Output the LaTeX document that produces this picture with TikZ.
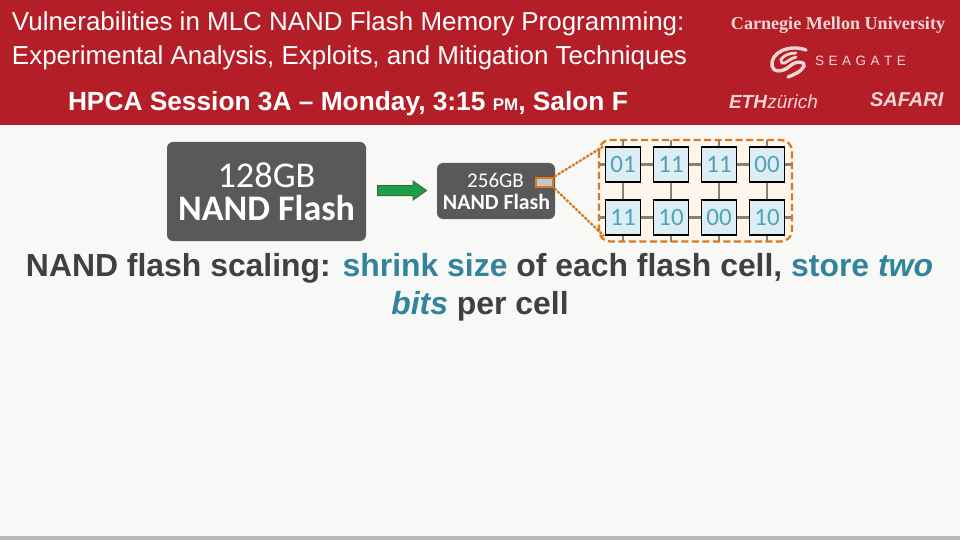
\documentclass[tikz,border=0pt]{standalone}
\usepackage{fontspec}
\setmainfont{Liberation Sans}
\newfontfamily\carlito{Carlito}
\newfontfamily\cmufont{Liberation Serif}
\definecolor{hdr}{HTML}{BA2029}
\definecolor{hdrline}{HTML}{AA1C25}
\definecolor{bgc}{HTML}{F8F8F6}
\definecolor{darkbox}{HTML}{595959}
\definecolor{teal}{HTML}{31849B}
\definecolor{orng}{HTML}{D67A22}
\definecolor{cellfill}{HTML}{DCEEF4}
\definecolor{celltxt}{HTML}{4FA3BC}
\definecolor{logo}{HTML}{F4D6D6}
\definecolor{wirec}{HTML}{8A8078}
\definecolor{arrowfill}{HTML}{1A9F4B}
\definecolor{arrowedge}{HTML}{3F6B2A}
\tikzset{x=1pt,y=-1pt,
 titletxt/.style={anchor=west,text=white,font=\fontsize{25.95}{28}\selectfont,inner sep=0,outer sep=0},
 darkrect/.style={fill=darkbox,rounded corners=6pt,text=white,align=center},
 cell/.style={draw=black,line width=1.6pt,fill=cellfill,minimum width=35pt,minimum height=35pt,inner sep=0,text=celltxt,font=\carlito\fontsize{25}{28}\selectfont},
 wire/.style={draw=wirec,line width=2.2pt},
 zoomline/.style={draw=orng,line width=2.2pt,dash pattern=on 3pt off 1.2pt},
 logotxt/.style={text=logo,inner sep=0,outer sep=0},
 body/.style={inner sep=0,outer sep=0,text=black!75,font=\fontsize{31.9}{36}\selectfont\bfseries}
}
\begin{document}
\begin{tikzpicture}
\useasboundingbox (0,0) rectangle (960,540);
\fill[bgc] (0,0) rectangle (960,540);
\fill[gray!55] (0,536) rectangle (960,540);
\fill[hdr] (0,0) rectangle (960,125);
\begin{scope}
\clip (0,0) rectangle (960,125);
\foreach \k in {0,4,...,1090}{\draw[hdrline,line width=.9pt] (\k,0) -- (\k-125,125);}
\end{scope}
\node[titletxt] (t1) at (12,24) {Vulnerabilities in MLC NAND Flash Memory Programming:};
\node[titletxt] (t2) at (12,58) {Experimental Analysis, Exploits, and Mitigation Techniques};
\node[titletxt,font=\fontsize{26.3}{28}\selectfont\bfseries] (t3) at (68,104) {HPCA Session 3A -- Monday, 3:15 {\fontsize{17}{20}\selectfont PM}, Salon F};
% logos
\node[logotxt,font=\cmufont\bfseries\fontsize{18.1}{22}\selectfont] (cmu) at (838,25) {Carnegie Mellon University};
\node[logotxt,font=\fontsize{13.5}{16}\selectfont,anchor=west] (sea) at (815,61) {S\,\,E\,\,A\,\,G\,\,A\,\,T\,\,E};
\draw[logo,line width=3.4pt,line cap=round] (806,50) .. controls (790,44) and (770,52) .. (772,66) .. controls (773,72) and (782,73) .. (790,66) .. controls (796,60) and (806,62) .. (804,66) .. controls (801,72) and (795,74) .. (788,77);
\draw[logo,line width=2.8pt,line cap=round] (796,53) .. controls (785,53) and (778,60) .. (782,63) .. controls (785,65) and (790,58) .. (796,57);
\node[logotxt,anchor=west,font=\fontsize{19}{22}\selectfont] (eth) at (729,102) {\textbf{\textit{ETH}}\textit{zürich}};
\node[logotxt,anchor=west,font=\fontsize{20}{22}\selectfont\bfseries\itshape] (saf) at (870,100) {SAFARI};
% boxes
\node[darkrect,minimum width=199pt,minimum height=99pt,inner sep=0] (big) at (266.5,191.5) {};
\node[text=white,inner sep=0] (bigA) at (266.5,175) {\carlito\fontsize{36.3}{38}\selectfont 128GB};
\node[text=white,inner sep=0] (bigB) at (266.5,208) {\carlito\bfseries\fontsize{36}{38}\selectfont NAND Flash};
\node[darkrect,minimum width=118pt,minimum height=56pt,inner sep=0] (mid) at (496,191) {};
\node[text=white,inner sep=0] (midA) at (495.5,180) {\carlito\fontsize{21}{24}\selectfont 256GB};
\node[text=white,inner sep=0] (midB) at (496.5,202) {\carlito\bfseries\fontsize{21.8}{24}\selectfont NAND Flash};
% arrow
\fill[arrowfill,draw=arrowedge,line width=1pt] (377.5,185.5) -- (413,185.5) -- (413,181) -- (426.5,190.5) -- (413,200) -- (413,195.5) -- (377.5,195.5) -- cycle;
% zoom region
\node[fill=orange!8,rounded corners=11pt,minimum width=193pt,minimum height=101pt,inner sep=0] (region) at (695.5,191) {};
\node[draw=orng,line width=2.4pt,fill=gray!45,minimum width=17pt,minimum height=9pt,inner sep=0] (chip) at (544.5,182.5) {};
\coordinate (rt) at (604,146);
\coordinate (rb) at (604,236);
\draw[zoomline] (chip.north east) -- (rt);
\draw[zoomline] (chip.south east) -- (rb);
% wires
\foreach \y in {164.5,217.5}{\draw[wire] (599,\y) -- (792,\y);}
\foreach \x in {623,671,719,767}{\draw[wire] (\x,140) -- (\x,242);}
\node[cell] (c11) at (623,164.5) {01};
\node[cell] (c12) at (671,164.5) {11};
\node[cell] (c13) at (719,164.5) {11};
\node[cell] (c14) at (767,164.5) {00};
\node[cell] (c21) at (623,217.5) {11};
\node[cell] (c22) at (671,217.5) {10};
\node[cell] (c23) at (719,217.5) {00};
\node[cell] (c24) at (767,217.5) {10};
\draw[draw=orng,line width=2.2pt,dash pattern=on 7pt off 3.5pt,rounded corners=11pt] (599,140) rectangle (792,241.5);
% body text
\node[body] (l1) at (479.5,268) {NAND flash scaling: {\color{teal}shrink size} of each flash cell, {\color{teal}store \textit{two}}};
\node[body] (l2) at (480,306) {{\color{teal}\textit{bits}} per cell};
\end{tikzpicture}
\end{document}
